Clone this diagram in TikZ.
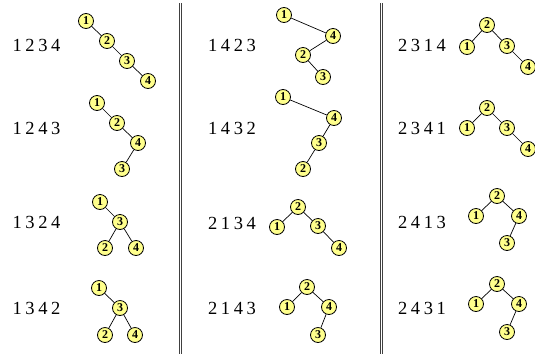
\documentclass[tikz,border=0pt]{standalone}
\usepackage{fontspec}
\setmainfont{Liberation Serif}
\definecolor{nodefill}{HTML}{FFFF8C}
\definecolor{sepcol}{HTML}{404040}
\newcommand{\gp}{\hspace{3.6pt}}
\begin{document}
\begin{tikzpicture}[x=1pt,y=-1pt,
  tn/.style={circle,draw=black,line width=0.8pt,fill=nodefill,minimum size=15pt,inner sep=0pt,font=\bfseries\fontsize{12}{12}\selectfont},
  lab/.style={inner sep=0pt,font=\fontsize{18.5}{18.5}\selectfont},
  edge/.style={draw=black,line width=0.7pt},
  sep/.style={draw=sepcol,line width=0.9pt}]
\useasboundingbox (0,0) rectangle (535,354);
% separators
\draw[sep] (179.3,3) -- (179.3,354);
\draw[sep] (181.5,3) -- (181.5,354);
\draw[sep] (380.3,3) -- (380.3,354);
\draw[sep] (382.5,3) -- (382.5,354);
% ---- column 1 ----
\node[lab] (l1) at (36.5,45) {1\gp2\gp3\gp4};
\node[tn] (a1) at (86,21) {1};
\node[tn] (a2) at (107,41) {2};
\node[tn] (a3) at (127,61) {3};
\node[tn] (a4) at (148,81) {4};
\draw[edge] (a1)--(a2) (a2)--(a3) (a3)--(a4);

\node[lab] (l2) at (36.5,128) {1\gp2\gp4\gp3};
\node[tn] (b1) at (97,103) {1};
\node[tn] (b2) at (117,123) {2};
\node[tn] (b4) at (138,143) {4};
\node[tn] (b3) at (122,169) {3};
\draw[edge] (b1)--(b2) (b2)--(b4) (b4)--(b3);

\node[lab] (l3) at (36.5,222) {1\gp3\gp2\gp4};
\node[tn] (c1) at (100,202) {1};
\node[tn] (c3) at (120,222) {3};
\node[tn] (c2) at (105,248) {2};
\node[tn] (c4) at (136,248) {4};
\draw[edge] (c1)--(c3) (c3)--(c2) (c3)--(c4);

\node[lab] (l4) at (36.5,308) {1\gp3\gp4\gp2};
\node[tn] (d1) at (99,288) {1};
\node[tn] (d3) at (120,308) {3};
\node[tn] (d2) at (105,335) {2};
\node[tn] (d4) at (135,335) {4};
\draw[edge] (d1)--(d3) (d3)--(d2) (d3)--(d4);
% ---- column 2 ----
\node[lab] (l5) at (232,45) {1\gp4\gp2\gp3};
\node[tn] (e1) at (284,15) {1};
\node[tn] (e4) at (333,36) {4};
\node[tn] (e2) at (303,55) {2};
\node[tn] (e3) at (323,77) {3};
\draw[edge] (e1)--(e4) (e4)--(e2) (e2)--(e3);

\node[lab] (l6) at (232,128) {1\gp4\gp3\gp2};
\node[tn] (f1) at (283,97) {1};
\node[tn] (f4) at (334,118) {4};
\node[tn] (f3) at (319,143) {3};
\node[tn] (f2) at (303,169) {2};
\draw[edge] (f1)--(f4) (f4)--(f3) (f3)--(f2);

\node[lab] (l7) at (232,223) {2\gp1\gp3\gp4};
\node[tn] (g2) at (298,207) {2};
\node[tn] (g1) at (277,227) {1};
\node[tn] (g3) at (318,226) {3};
\node[tn] (g4) at (339,248) {4};
\draw[edge] (g2)--(g1) (g2)--(g3) (g3)--(g4);

\node[lab] (l8) at (232,308) {2\gp1\gp4\gp3};
\node[tn] (h2) at (307,287) {2};
\node[tn] (h1) at (287,307) {1};
\node[tn] (h4) at (329,307) {4};
\node[tn] (h3) at (318,335) {3};
\draw[edge] (h2)--(h1) (h2)--(h4) (h4)--(h3);
% ---- column 3 ----
\node[lab] (l9) at (422,45) {2\gp3\gp1\gp4};
\node[tn] (i2) at (487,25) {2};
\node[tn] (i1) at (467,47) {1};
\node[tn] (i3) at (507,46) {3};
\node[tn] (i4) at (528,67) {4};
\draw[edge] (i2)--(i1) (i2)--(i3) (i3)--(i4);

\node[lab] (l10) at (422,128) {2\gp3\gp4\gp1};
\node[tn] (j2) at (487,108) {2};
\node[tn] (j1) at (467,128) {1};
\node[tn] (j3) at (507,128) {3};
\node[tn] (j4) at (528,149) {4};
\draw[edge] (j2)--(j1) (j2)--(j3) (j3)--(j4);

\node[lab] (l11) at (422,222) {2\gp4\gp1\gp3};
\node[tn] (k2) at (497,196) {2};
\node[tn] (k1) at (476,216) {1};
\node[tn] (k4) at (519,216) {4};
\node[tn] (k3) at (507,243) {3};
\draw[edge] (k2)--(k1) (k2)--(k4) (k4)--(k3);

\node[lab] (l12) at (422,308) {2\gp4\gp3\gp1};
\node[tn] (m2) at (497,284) {2};
\node[tn] (m1) at (476,304) {1};
\node[tn] (m4) at (519,304) {4};
\node[tn] (m3) at (507,332) {3};
\draw[edge] (m2)--(m1) (m2)--(m4) (m4)--(m3);
\end{tikzpicture}
\end{document}
